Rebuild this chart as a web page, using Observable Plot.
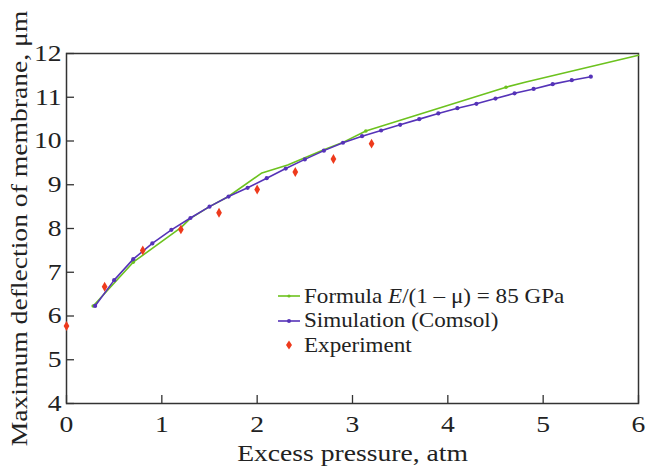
<!DOCTYPE html>
<html><head><meta charset="utf-8">
<script src="https://cdn.jsdelivr.net/npm/d3@7"></script>
<script src="https://cdn.jsdelivr.net/npm/@observablehq/plot@0.6"></script>
<style>
body{margin:0;background:#fff;}
#wrap{position:relative;width:646px;height:466px;font-family:"Liberation Serif","DejaVu Serif",serif;}
#legend{position:absolute;left:278px;top:284px;font-size:21px;color:#222;}
#legend .row{display:flex;align-items:center;height:24.5px;}
#legend svg{width:23px;height:24px;margin-right:3px;flex:none;}
#legend span{display:inline-block;transform:scaleX(1.1);transform-origin:left center;white-space:nowrap;}
</style>
</head><body>
<div id="wrap"><div id="chart"></div>
<div id="legend"></div></div>
<script>
const formulaX = [0.28, 0.7, 1.2, 1.3, 1.5, 1.69, 2.05, 2.32, 2.7, 2.91, 3.14, 4.61, 4.82, 6.0];
const formulaY = [6.23, 7.23, 8.02, 8.23, 8.50, 8.72, 9.27, 9.45, 9.80, 9.98, 10.23, 11.23, 11.35, 11.96];
const formulaMarkX = [0.28, 0.7, 3.14, 4.61];
const formulaMarkY = [6.23, 7.23, 10.23, 11.23];
const simX = [0.3,0.5,0.7,0.9,1.1,1.3,1.5,1.7,1.9,2.1,2.3,2.5,2.7,2.9,3.1,3.3,3.5,3.7,3.9,4.1,4.3,4.5,4.7,4.9,5.1,5.3,5.5];
const simY = [6.23,6.82,7.30,7.66,7.97,8.24,8.50,8.73,8.93,9.15,9.37,9.58,9.78,9.96,10.11,10.24,10.37,10.50,10.63,10.75,10.85,10.97,11.09,11.19,11.30,11.39,11.47];
const expX = [0, 0.4, 0.8, 1.2, 1.6, 2.0, 2.4, 2.8, 3.2];
const expY = [5.77, 6.67, 7.50, 7.98, 8.36, 8.89, 9.29, 9.59, 9.94];
const xTicks = [0,1,2,3,4,5,6];
const yTicks = [4,5,6,7,8,9,10,11,12];
const seriesNames = ["Formula <i>E</i>/(1 – μ) = 85 GPa", "Simulation (Comsol)", "Experiment"];
const colors = {green:"#6cc21e", blue:"#5533b8", red:"#ee3a1c", axis:"#333"};

const formula = formulaX.map((x,i)=>({x, y:formulaY[i]}));
const formulaMarks = formulaMarkX.map((x,i)=>({x, y:formulaMarkY[i]}));
const sim = simX.map((x,i)=>({x, y:simY[i]}));
const exp = expX.map((x,i)=>({x, y:expY[i]}));

const W = 646, H = 466, mt = 53, mb = 63, ml = 66, mr = 8;
const plot = Plot.plot({
  width: W, height: H,
  marginTop: mt, marginBottom: mb, marginLeft: ml, marginRight: mr,
  style: {fontFamily: '"Liberation Serif","DejaVu Serif",serif', fontSize: "23px", color: "#222", background: "#fff", overflow: "visible"},
  x: {domain: [0, 6]},
  y: {domain: [4, 12]},
  marks: [
    Plot.ruleX(xTicks, {x: d=>d, insetTop: H - mt - mb - 8, stroke: colors.axis, strokeWidth: 1.3}),
    Plot.ruleY(yTicks, {y: d=>d, insetRight: W - ml - mr - 8, stroke: colors.axis, strokeWidth: 1.3}),
    Plot.axisX(xTicks, {tickSize: 0, tickPadding: 12, label: "Excess pressure, atm", labelAnchor: "center", labelOffset: 57, labelArrow: "none", fontSize: 23}),
    Plot.axisY(yTicks, {tickSize: 0, tickPadding: 5, label: "Maximum deflection of membrane, μm", labelAnchor: "center", labelOffset: 56, labelArrow: "none", fontSize: 23}),
    Plot.frame({stroke: colors.axis, strokeWidth: 1.5}),
    Plot.line(formula, {x: "x", y: "y", stroke: colors.green, strokeWidth: 1.6}),
    Plot.dot(formulaMarks, {x: "x", y: "y", r: 1.8, fill: colors.green}),
    Plot.line(sim, {x: "x", y: "y", stroke: colors.blue, strokeWidth: 1.6}),
    Plot.dot(sim, {x: "x", y: "y", r: 2.1, fill: colors.blue}),
    Plot.dot(exp, {x: "x", y: "y", symbol: "diamond", r: 3, fill: colors.red})
  ]
});
document.getElementById("chart").appendChild(plot);
// the reference typeface is drawn wider than it is tall: stretch glyphs horizontally
plot.querySelectorAll("text").forEach(t => {
  const L = t.getComputedTextLength();
  if (L > 0) { t.setAttribute("textLength", (L * 1.2).toFixed(1)); t.setAttribute("lengthAdjust", "spacingAndGlyphs"); }
});

const lg = document.getElementById("legend");
const sw = [
  `<svg><line x1="0" y1="12" x2="22" y2="12" stroke="${colors.green}" stroke-width="1.6"/><circle cx="11" cy="12" r="1.6" fill="${colors.green}"/></svg>`,
  `<svg><line x1="0" y1="12" x2="22" y2="12" stroke="${colors.blue}" stroke-width="1.6"/><circle cx="11" cy="12" r="2" fill="${colors.blue}"/></svg>`,
  `<svg><path d="M11,7.5L14,12L11,16.5L8,12Z" fill="${colors.red}"/></svg>`
];
seriesNames.forEach((n,i)=>{
  const r = document.createElement("div"); r.className="row";
  r.innerHTML = sw[i] + "<span>" + n + "</span>";
  lg.appendChild(r);
});
</script>
</body></html>
